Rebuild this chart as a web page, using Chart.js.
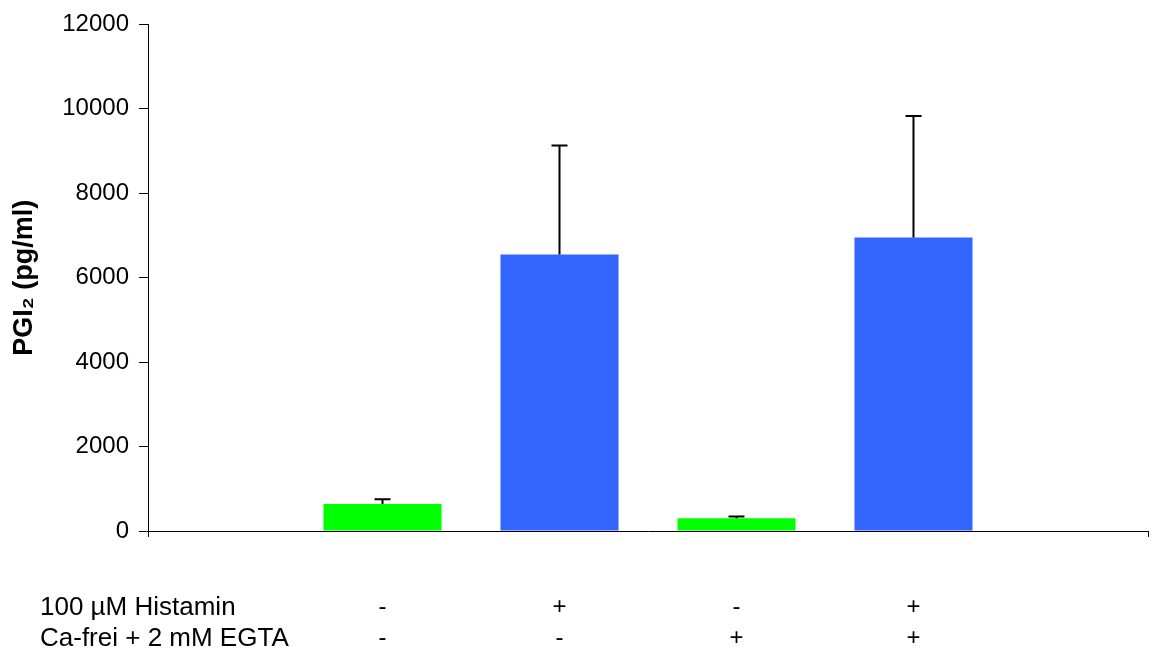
<!DOCTYPE html>
<html>
<head>
<meta charset="utf-8">
<script src="https://cdn.jsdelivr.net/npm/chart.js@4"></script>
<style>
  html, body { margin: 0; padding: 0; background: #fff; }
  #wrap { width: 1154px; height: 655px; }
</style>
</head>
<body>
<div id="wrap"><canvas id="myChart"></canvas></div>
<script>
// data
const groups = [1, 2, 3, 4];
const values = [640, 6550, 300, 6950];
const errors = [110, 2580, 45, 2880];
const barColors = ['#00ff00', '#3366ff', '#00ff00', '#3366ff'];
const histaminRow = ['-', '+', '-', '+'];
const egtaRow = ['-', '-', '+', '+'];
const rowLabels = ['100 µM Histamin', 'Ca-frei + 2 mM EGTA'];
const yTicks = [0, 2000, 4000, 6000, 8000, 10000, 12000];

const FONT = "'Liberation Sans', Arial, sans-serif";
const xMin = -0.325, xMax = 5.325;
const labelPad = 55, tickLen = 6, lineH = 31;

// error bars (upper only)
const errorBars = {
  id: 'errorBars',
  afterDatasetsDraw(chart) {
    const { ctx, scales: { x, y } } = chart;
    ctx.save();
    ctx.strokeStyle = '#000';
    ctx.lineWidth = 2;
    values.forEach((v, i) => {
      const px = x.getPixelForValue(groups[i]);
      const y0 = y.getPixelForValue(v);
      const y1 = y.getPixelForValue(v + errors[i]);
      ctx.beginPath();
      ctx.moveTo(px, y0);
      ctx.lineTo(px, y1);
      ctx.moveTo(px - 8, y1);
      ctx.lineTo(px + 8, y1);
      ctx.stroke();
    });
    ctx.restore();
  }
};

// row captions left of the +/- table
const rowCaptions = {
  id: 'rowCaptions',
  afterDraw(chart) {
    const { ctx, scales: { x } } = chart;
    const y1 = x.top + tickLen + labelPad + lineH / 2;
    ctx.save();
    ctx.font = '26px ' + FONT;
    ctx.fillStyle = '#000';
    ctx.textAlign = 'left';
    ctx.textBaseline = 'middle';
    rowLabels.forEach((t, i) => ctx.fillText(t, 40, y1 + i * lineH));
    ctx.restore();
  }
};

new Chart(document.getElementById('myChart'), {
  type: 'bar',
  data: {
    datasets: [{
      data: groups.map((g, i) => ({ x: g, y: values[i] })),
      backgroundColor: barColors,
      borderWidth: 0,
      categoryPercentage: 1,
      barPercentage: 0.667
    }]
  },
  options: {
    responsive: true,
    maintainAspectRatio: false,
    animation: false,
    layout: { padding: { top: 22, right: 6, left: 0, bottom: 0 } },
    plugins: {
      legend: { display: false },
      tooltip: { enabled: false }
    },
    scales: {
      x: {
        type: 'linear',
        min: xMin,
        max: xMax,
        offset: false,
        afterBuildTicks: (scale) => {
          scale.ticks = [xMin, ...groups, xMax].map(v => ({ value: v }));
        },
        afterFit: (scale) => {
          scale.height = 124;
          scale.paddingLeft = 0;
          scale.paddingRight = 0;
        },
        grid: {
          offset: false,
          drawOnChartArea: false,
          tickLength: tickLen,
          tickColor: (ctx) => (ctx.tick && (ctx.tick.value === xMin || ctx.tick.value === xMax)) ? '#000' : 'rgba(0,0,0,0)'
        },
        border: { color: '#000', width: 1 },
        ticks: {
          autoSkip: false,
          maxRotation: 0,
          padding: labelPad,
          color: '#000',
          font: { family: FONT, size: 24, lineHeight: lineH / 24 },
          callback: (v) => {
            const i = groups.indexOf(v);
            return i < 0 ? '' : [histaminRow[i], egtaRow[i]];
          }
        }
      },
      y: {
        min: 0,
        max: 12000,
        afterBuildTicks: (scale) => {
          scale.ticks = yTicks.map(v => ({ value: v }));
        },
        afterFit: (scale) => { scale.width = 148; },
        grid: {
          drawOnChartArea: false,
          tickLength: 9,
          tickColor: '#000'
        },
        border: { color: '#000', width: 1 },
        ticks: {
          padding: 10,
          color: '#000',
          font: { family: FONT, size: 24 },
          callback: (v) => String(v)
        },
        title: {
          display: true,
          text: 'PGI₂ (pg/ml)',
          color: '#000',
          padding: { top: 8, bottom: 0 },
          font: { family: FONT, size: 27, weight: 'bold', lineHeight: 1.2 }
        }
      }
    }
  },
  plugins: [errorBars, rowCaptions]
});
</script>
</body>
</html>
